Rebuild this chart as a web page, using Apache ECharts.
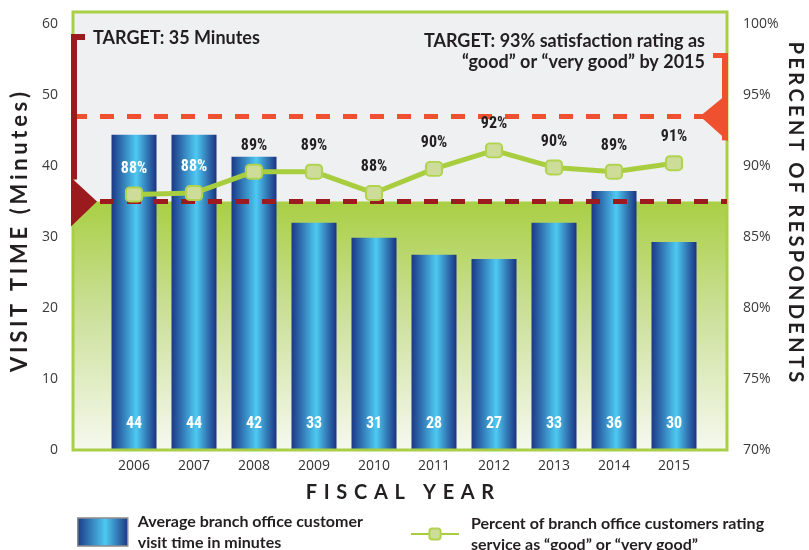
<!DOCTYPE html>
<html>
<head>
<meta charset="utf-8">
<title>Branch office visit time and satisfaction</title>
<script src="https://cdn.jsdelivr.net/npm/echarts@6/dist/echarts.min.js"></script>
<style>
  html, body { margin: 0; padding: 0; background: #fff; }
  #chart { width: 809px; height: 550px; }
</style>
</head>
<body>
<div id="chart"></div>
<script>
// data
const years = ['2006', '2007', '2008', '2009', '2010', '2011', '2012', '2013', '2014', '2015']
const visitTime = [44.4, 44.4, 41.3, 32.0, 29.9, 27.5, 26.9, 32.0, 36.5, 29.3]
const visitLabels = ['44', '44', '42', '33', '31', '28', '27', '33', '36', '30']
const satisfaction = [88.0, 88.1, 89.6, 89.6, 88.1, 89.8, 91.1, 89.9, 89.6, 90.2]
const satisfactionLabels = ['88%', '88%', '89%', '89%', '88%', '90%', '92%', '90%', '89%', '91%']
const minuteTicks = [0, 10, 20, 30, 40, 50, 60]
const percentTicks = [70, 75, 80, 85, 90, 95, 100]
const targetMinutes = 35
const targetPercentLine = 93.5

const barName = 'Average branch office customer\nvisit time in minutes'
const lineName = 'Percent of branch office customers rating\nservice as \u201cgood\u201d or \u201cvery good\u201d'

// layout of the framed plot box
const W = 809
const H = 550
const box = { left: 73, right: 727, top: 12, bottom: 450 }
const bars = { left: 104, right: 704 }
// the frame runs a bit above the 60 / 100% ticks
const minuteMax = 61.7
const percentMax = 70 + minuteMax / 2

const TEXT = '#231f20'
const BOLD = 'Lato, "Open Sans", sans-serif'
const NARROW = '"Liberation Sans Narrow", "Roboto Condensed", Roboto, sans-serif'

function spaced(text, gap) {
  return text.split('').join(gap)
}

function minutesToPercent(v) {
  return 70 + v / 2
}

const chart = echarts.init(document.getElementById('chart'), null, { renderer: 'canvas' })

const barGradient = new echarts.graphic.LinearGradient(0, 0, 1, 0, [
  { offset: 0, color: '#1c3886' },
  { offset: 0.55, color: '#4ec9f2' },
  { offset: 1, color: '#1a3280' }
])

const greenGradient = new echarts.graphic.LinearGradient(0, 0, 0, 1, [
  { offset: 0, color: '#a9cf44' },
  { offset: 0.45, color: '#cce09a' },
  { offset: 1, color: '#f6f9ee' }
])

const legendText = {
  fontFamily: BOLD,
  fontWeight: 'bold',
  fontSize: 16,
  color: TEXT,
  lineHeight: 21
}

chart.setOption({
  animation: false,
  grid: [
    { left: bars.left, right: W - bars.right, top: box.top, bottom: H - box.bottom, show: false },
    {
      left: box.left, right: W - box.right, top: box.top, bottom: H - box.bottom,
      show: true, backgroundColor: '#eff0f2', borderWidth: 0
    }
  ],
  xAxis: [
    {
      type: 'category',
      gridIndex: 0,
      data: years,
      axisLine: { show: false },
      axisTick: { show: false },
      axisLabel: { margin: 9, fontFamily: '"Open Sans", sans-serif', fontSize: 14, color: '#333' }
    },
    { type: 'value', gridIndex: 1, min: 0, max: 1, show: false }
  ],
  yAxis: [
    { type: 'value', gridIndex: 0, min: 0, max: minuteMax, show: false },
    { type: 'value', gridIndex: 0, min: 70, max: percentMax, show: false, position: 'right' },
    {
      type: 'value',
      gridIndex: 1,
      min: 0,
      max: minuteMax,
      interval: 10,
      axisLine: { show: false },
      axisTick: { show: false },
      splitLine: { show: false },
      axisLabel: {
        margin: 15,
        fontFamily: '"Open Sans", sans-serif',
        fontSize: 14,
        color: '#3a3a3a',
        formatter: v => (minuteTicks.includes(v) ? String(v) : '')
      }
    },
    {
      type: 'value',
      gridIndex: 1,
      position: 'right',
      min: 70,
      max: percentMax,
      interval: 5,
      axisLine: { show: false },
      axisTick: { show: false },
      splitLine: { show: false },
      axisLabel: {
        margin: 16,
        fontFamily: '"Open Sans", sans-serif',
        fontSize: 14,
        color: '#3a3a3a',
        formatter: v => (percentTicks.includes(v) ? v + '%' : '')
      }
    }
  ],
  legend: [
    {
      data: [barName],
      left: 77,
      top: 511,
      padding: 0,
      icon: 'rect',
      itemWidth: 50,
      itemHeight: 28,
      selectedMode: false,
      itemStyle: { borderColor: '#8c8c8c', borderWidth: 1.5 },
      textStyle: { ...legendText, padding: [0, 0, 0, 5] }
    },
    {
      data: [lineName],
      left: 410,
      top: 513,
      padding: 0,
      itemWidth: 48,
      itemHeight: 14,
      selectedMode: false,
      textStyle: { ...legendText, padding: [0, 0, 0, 7] }
    }
  ],
  series: [
    {
      // green zone under the 35 minute target plus the target line
      type: 'line',
      xAxisIndex: 1,
      yAxisIndex: 2,
      data: [],
      silent: true,
      z: 1,
      markArea: {
        silent: true,
        itemStyle: { color: greenGradient },
        data: [[{ yAxis: 0 }, { yAxis: targetMinutes }]]
      },
      markLine: {
        silent: true,
        symbol: 'none',
        label: { show: false },
        lineStyle: { color: '#9b1b1e', width: 5, type: [14, 13] },
        data: [{ yAxis: targetMinutes }]
      }
    },
    {
      type: 'line',
      xAxisIndex: 1,
      yAxisIndex: 3,
      data: [],
      silent: true,
      markLine: {
        silent: true,
        symbol: 'none',
        label: { show: false },
        lineStyle: { color: '#ef5030', width: 5, type: [14, 13] },
        data: [{ yAxis: targetPercentLine }]
      }
    },
    {
      name: barName,
      type: 'bar',
      xAxisIndex: 0,
      yAxisIndex: 0,
      barWidth: 45,
      z: 2,
      itemStyle: { color: barGradient },
      label: {
        show: true,
        position: 'insideBottom',
        distance: 18,
        color: '#fff',
        fontFamily: NARROW,
        fontWeight: 'bold',
        fontSize: 16
      },
      data: visitTime.map((v, i) => ({ value: v, label: { formatter: visitLabels[i] } }))
    },
    {
      name: lineName,
      type: 'line',
      xAxisIndex: 0,
      yAxisIndex: 1,
      z: 6,
      symbol: 'roundRect',
      symbolSize: [16, 14],
      lineStyle: { color: '#a8ce3f', width: 5 },
      itemStyle: { color: '#cddc98', borderColor: '#b1d350', borderWidth: 2 },
      label: {
        show: true,
        position: 'top',
        distance: 10,
        fontFamily: NARROW,
        fontWeight: 'bold',
        fontSize: 16
      },
      data: satisfaction.map((v, i) => {
        // labels that sit on a bar are white
        const onBar = minutesToPercent(visitTime[i]) > v + 2
        return {
          value: v,
          label: { formatter: satisfactionLabels[i], color: onBar ? '#fff' : TEXT }
        }
      })
    }
  ]
})

// brackets and arrows pointing at the two target lines
const y35 = chart.convertToPixel({ yAxisIndex: 2 }, targetMinutes)
const y93 = chart.convertToPixel({ yAxisIndex: 3 }, targetPercentLine)
const darkRed = '#9a1a1d'
const orange = '#ef5030'

function text(str, x, y, opts) {
  return {
    type: 'text',
    x: x,
    y: y,
    rotation: opts.rotation || 0,
    z: 20,
    style: {
      text: str,
      font: opts.font,
      fill: TEXT,
      align: opts.align || 'left',
      verticalAlign: opts.verticalAlign || 'middle',
      textAlign: opts.align || 'left',
      textVerticalAlign: opts.verticalAlign || 'middle',
      lineHeight: opts.lineHeight
    }
  }
}

chart.setOption({
  graphic: [
    {
      type: 'rect',
      z: 3,
      shape: { x: box.left, y: box.top, width: box.right - box.left, height: box.bottom - box.top },
      style: { fill: null, stroke: '#a8cf45', lineWidth: 3 }
    },
    // left bracket
    { type: 'rect', z: 10, shape: { x: box.left - 2, y: 34, width: 6, height: y35 - 22 - 34 }, style: { fill: darkRed } },
    { type: 'rect', z: 10, shape: { x: box.left - 2, y: 34, width: 14, height: 6 }, style: { fill: darkRed } },
    {
      type: 'polygon', z: 10,
      shape: { points: [[box.left - 2, y35 - 24], [box.left + 24, y35], [box.left - 2, y35 + 25]] },
      style: { fill: darkRed }
    },
    // right bracket
    { type: 'rect', z: 10, shape: { x: box.right - 5, y: 53, width: 6, height: y93 + 24 - 53 }, style: { fill: orange } },
    { type: 'rect', z: 10, shape: { x: box.right - 14, y: 53, width: 15, height: 5 }, style: { fill: orange } },
    {
      type: 'polygon', z: 10,
      shape: { points: [[box.right + 1, y93 - 23], [box.right - 27, y93], [box.right + 1, y93 + 25]] },
      style: { fill: orange }
    },
    text('TARGET: 35 Minutes', 93, 38, { font: 'bold 18px ' + BOLD }),
    text('TARGET: 93% satisfaction rating as\n\u201cgood\u201d or \u201cvery good\u201d by 2015', 705, 31,
      { font: 'bold 18px ' + BOLD, align: 'right', verticalAlign: 'top', lineHeight: 21 }),
    text(spaced('VISIT TIME (Minutes)', '\u2006'), 20, 232,
      { font: 'bold 22px ' + BOLD, align: 'center', rotation: Math.PI / 2 }),
    text(spaced('PERCENT OF RESPONDENTS', '\u2006'), 795, 212,
      { font: 'bold 20px ' + BOLD, align: 'center', rotation: -Math.PI / 2 }),
    text(spaced('FISCAL YEAR', '\u2004'), 400, 493,
      { font: 'bold 20px ' + BOLD, align: 'center' })
  ]
})

window.addEventListener('resize', () => chart.resize())
</script>
</body>
</html>
